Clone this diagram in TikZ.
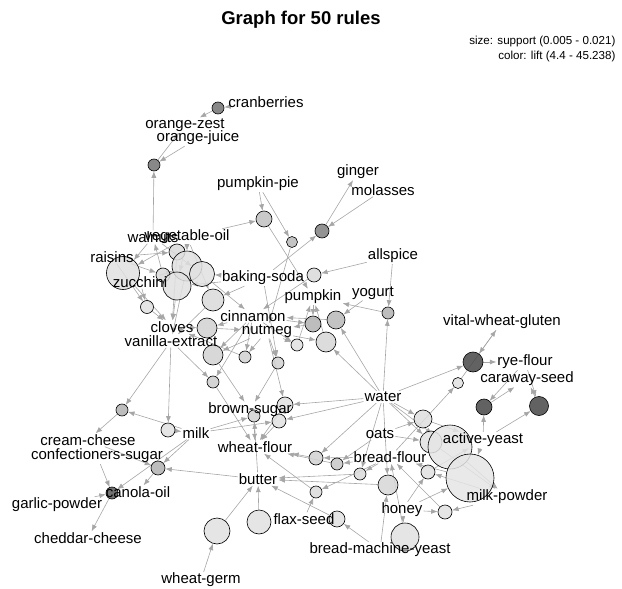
\documentclass[tikz,border=0pt]{standalone}
\usepackage{fontspec}
\setmainfont{Liberation Sans}
\usetikzlibrary{arrows.meta,backgrounds}
\tikzset{%
  item/.style={font=\fontsize{15}{16}\selectfont, inner sep=1pt},% item label
  rule/.style 2 args={draw, circle, line width=0.6pt, inner sep=0pt,
    minimum size=#1pt, fill=black!#2, fill opacity=0.85},% rule vertex: diameter, grey
  link/.style={draw=black!35, line width=0.6pt, -{Latex[length=6.5pt,width=5pt]}}% lhs/rhs edge
}
\begin{document}
\begin{tikzpicture}[x=1pt, y=-1pt]
\useasboundingbox (0,0) rectangle (622,589);

\node[font=\fontsize{18.5}{20}\selectfont\bfseries] (title) at (301,20) {Graph for 50 rules};
\node[anchor=east, font=\fontsize{11.6}{12}\selectfont] (size) at (619,42) {size: support (0.005 - 0.021)};
\node[anchor=east, font=\fontsize{11.6}{12}\selectfont] (color) at (619,56) {color: lift (4.4 - 45.238)};

% rules
\node[rule={12}{55}] (r1) at (218,108) {};
\node[rule={12}{55}] (r2) at (154,165) {};
\node[rule={16}{25}] (r3) at (264,219) {};
\node[rule={11}{28}] (r4) at (292,242) {};
\node[rule={14}{50}] (r5) at (322,231) {};
\node[rule={14}{15}] (r6) at (314,275) {};
\node[rule={12}{30}] (r7) at (388,313) {};
\node[rule={33}{12}] (r8) at (123,273) {};
\node[rule={16}{15}] (r9) at (177,252) {};
\node[rule={30}{12}] (r10) at (187,266) {};
\node[rule={25}{12}] (r11) at (202,274) {};
\node[rule={14}{15}] (r12) at (163,275) {};
\node[rule={28}{12}] (r13) at (177,286) {};
\node[rule={22}{15}] (r14) at (213,300) {};
\node[rule={13}{12}] (r15) at (147,307) {};
\node[rule={20}{18}] (r16) at (207,328) {};
\node[rule={20}{18}] (r17) at (213,355) {};
\node[rule={12}{18}] (r18) at (245,357) {};
\node[rule={12}{18}] (r19) at (278,363) {};
\node[rule={12}{20}] (r20) at (213,382) {};
\node[rule={12}{12}] (r21) at (297,345) {};
\node[rule={16}{30}] (r22) at (313,324) {};
\node[rule={18}{28}] (r23) at (336,320) {};
\node[rule={20}{16}] (r24) at (326,342) {};
\node[rule={16}{12}] (r25) at (285,405) {};
\node[rule={14}{12}] (r26) at (279,421) {};
\node[rule={12}{18}] (r27) at (254,416) {};
\node[rule={14}{18}] (r28) at (316,458) {};
\node[rule={12}{22}] (r29) at (337,464) {};
\node[rule={12}{14}] (r30) at (360,474) {};
\node[rule={12}{14}] (r31) at (316,492) {};
\node[rule={20}{16}] (r32) at (388,485) {};
\node[rule={16}{12}] (r33) at (337,519) {};
\node[rule={24}{12}] (r34) at (259,522) {};
\node[rule={28}{12}] (r35) at (405,537) {};
\node[rule={14}{12}] (r36) at (445,512) {};
\node[rule={11}{12}] (r37) at (458,383) {};
\node[rule={20}{72}] (r38) at (473,362) {};
\node[rule={16}{72}] (r39) at (484,407) {};
\node[rule={19}{72}] (r40) at (539,406) {};
\node[rule={18}{13}] (r41) at (423,419) {};
\node[rule={22}{12}] (r42) at (431,442) {};
\node[rule={44}{10}] (r43) at (450,447) {};
\node[rule={48}{10}] (r44) at (470,478) {};
\node[rule={14}{12}] (r45) at (428,472) {};
\node[rule={12}{30}] (r46) at (122,410) {};
\node[rule={14}{12}] (r47) at (168,430) {};
\node[rule={14}{30}] (r48) at (158,468) {};
\node[rule={12}{65}] (r49) at (112,493) {};
\node[rule={26}{12}] (r50) at (217,531) {};

% items
\node[item] (cranberries) at (266,102) {cranberries};
\node[item] (orangezest) at (185,125) {orange-zest};
\node[item] (orangejuice) at (198,138) {orange-juice};
\node[item] (pumpkinpie) at (258,184) {pumpkin-pie};
\node[item] (ginger) at (358,172) {ginger};
\node[item] (molasses) at (383,190) {molasses};
\node[item] (walnuts) at (153,237) {walnuts};
\node[item] (vegoil) at (187,237) {vegetable-oil};
\node[item] (raisins) at (112,257) {raisins};
\node[item] (zucchini) at (140,282) {zucchini};
\node[item] (bakingsoda) at (263,278) {baking-soda};
\node[item] (allspice) at (393,256) {allspice};
\node[item] (pumpkin) at (313,297) {pumpkin};
\node[item] (yogurt) at (373,293) {yogurt};
\node[item] (cinnamon) at (253,316) {cinnamon};
\node[item] (nutmeg) at (267,331) {nutmeg};
\node[item] (cloves) at (172,327) {cloves};
\node[item] (vanilla) at (171,341) {vanilla-extract};
\node[item] (vwg) at (502,322) {vital-wheat-gluten};
\node[item] (ryeflour) at (525,362) {rye-flour};
\node[item] (caraway) at (527,379) {caraway-seed};
\node[item] (water) at (383,397) {water};
\node[item] (brownsugar) at (250,410) {brown-sugar};
\node[item] (milk) at (196,433) {milk};
\node[item] (oats) at (380,434) {oats};
\node[item] (creamcheese) at (88,440) {cream-cheese};
\node[item] (confsugar) at (97,456) {confectioners-sugar};
\node[item] (wheatflour) at (255,447) {wheat-flour};
\node[item] (activeyeast) at (483,440) {active-yeast};
\node[item] (breadflour) at (390,457) {bread-flour};
\node[item] (butter) at (258,479) {butter};
\node[item] (canolaoil) at (138,492) {canola-oil};
\node[item] (garlic) at (57,505) {garlic-powder};
\node[item] (milkpowder) at (507,497) {milk-powder};
\node[item] (honey) at (402,510) {honey};
\node[item] (flaxseed) at (304,519) {flax-seed};
\node[item] (cheddar) at (88,538) {cheddar-cheese};
\node[item] (bmyeast) at (380,550) {bread-machine-yeast};
\node[item] (wheatgerm) at (201,580) {wheat-germ};

\begin{scope}[on background layer]
\path (cranberries) edge[link] (r1) (r1) edge[link] (orangezest);
\path (walnuts) edge[link] (r2) (orangejuice) edge[link] (r2) (r2) edge[link] (orangezest);
\path (vegoil) edge[link] (r3) (pumpkinpie) edge[link] (r3) (r3) edge[link] (pumpkin);
\path (pumpkinpie) edge[link] (r4) (r4) edge[link] (nutmeg);
\path (molasses) edge[link] (r5) (bakingsoda) edge[link] (r5) (r5) edge[link] (ginger);
\path (allspice) edge[link] (r6) (r6) edge[link] (cinnamon);
\path (allspice) edge[link] (r7) (water) edge[link] (r7) (r7) edge[link] (pumpkin);
\path (walnuts) edge[link] (r8) (vegoil) edge[link] (r8) (r8) edge[link] (cloves);
\path (raisins) edge[link] (r9) (r9) edge[link] (cloves);
\path (zucchini) edge[link] (r10) (vegoil) edge[link] (r10) (r10) edge[link] (vanilla);
\path (walnuts) edge[link] (r11) (bakingsoda) edge[link] (r11) (r11) edge[link] (cinnamon);
\path (raisins) edge[link] (r12) (r12) edge[link] (walnuts);
\path (vegoil) edge[link] (r13) (bakingsoda) edge[link] (r13) (r13) edge[link] (cloves);
\path (bakingsoda) edge[link] (r14) (vegoil) edge[link] (r14) (r14) edge[link] (vanilla);
\path (zucchini) edge[link] (r15) (raisins) edge[link] (r15) (r15) edge[link] (cloves);
\path (cloves) edge[link] (r16) (cinnamon) edge[link] (r16) (r16) edge[link] (nutmeg);
\path (nutmeg) edge[link] (r17) (cinnamon) edge[link] (r17) (r17) edge[link] (brownsugar);
\path (cinnamon) edge[link] (r18) (nutmeg) edge[link] (r18) (r18) edge[link] (cloves);
\path (nutmeg) edge[link] (r19) (bakingsoda) edge[link] (r19) (r19) edge[link] (brownsugar);
\path (vanilla) edge[link] (r20) (cinnamon) edge[link] (r20) (r20) edge[link] (wheatflour);
\path (nutmeg) edge[link] (r21) (cinnamon) edge[link] (r21) (r21) edge[link] (pumpkin);
\path (pumpkin) edge[link] (r22) (cinnamon) edge[link] (r22) (r22) edge[link] (nutmeg);
\path (yogurt) edge[link] (r23) (water) edge[link] (r23) (r23) edge[link] (cinnamon);
\path (water) edge[link] (r24) (nutmeg) edge[link] (r24) (r24) edge[link] (pumpkin);
\path (nutmeg) edge[link] (r25) (water) edge[link] (r25) (r25) edge[link] (wheatflour);
\path (milk) edge[link] (r26) (water) edge[link] (r26) (r26) edge[link] (wheatflour);
\path (butter) edge[link] (r27) (milk) edge[link] (r27) (r27) edge[link] (wheatflour);
\path (water) edge[link] (r28) (breadflour) edge[link] (r28) (r28) edge[link] (wheatflour);
\path (oats) edge[link] (r29) (breadflour) edge[link] (r29) (r29) edge[link] (wheatflour);
\path (breadflour) edge[link] (r30) (water) edge[link] (r30) (r30) edge[link] (butter);
\path (flaxseed) edge[link] (r31) (breadflour) edge[link] (r31) (r31) edge[link] (wheatflour);
\path (water) edge[link] (r32) (bmyeast) edge[link] (r32) (r32) edge[link] (butter);
\path (bmyeast) edge[link] (r33) (r33) edge[link] (butter);
\path (r34) edge[link] (butter);
\path (honey) edge[link] (r35) (r35) edge[link] (breadflour);
\path (honey) edge[link] (r36) (milkpowder) edge[link] (r36) (r36) edge[link] (breadflour);
\path (breadflour) edge[link] (r37) (r37) edge[link] (vwg);
\path (vwg) edge[link] (r38) (water) edge[link] (r38) (r38) edge[link] (ryeflour);
\path (ryeflour) edge[link] (r39) (activeyeast) edge[link] (r39) (r39) edge[link] (caraway);
\path (ryeflour) edge[link] (r40) (activeyeast) edge[link] (r40) (r40) edge[link] (caraway);
\path (water) edge[link] (r41) (oats) edge[link] (r41) (r41) edge[link] (activeyeast);
\path (oats) edge[link] (r42) (water) edge[link] (r42) (r42) edge[link] (milkpowder);
\path (water) edge[link] (r43) (r43) edge[link] (milkpowder);
\path (activeyeast) edge[link] (r44) (honey) edge[link] (r44) (r44) edge[link] (breadflour);
\path (honey) edge[link] (r45) (milkpowder) edge[link] (r45) (r45) edge[link] (activeyeast);
\path (vanilla) edge[link] (r46) (milk) edge[link] (r46) (r46) edge[link] (creamcheese);
\path (vanilla) edge[link] (r47) (r47) edge[link] (milk);
\path (creamcheese) edge[link] (r48) (milk) edge[link] (r48) (butter) edge[link] (r48) (r48) edge[link] (canolaoil);
\path (garlic) edge[link] (r49) (confsugar) edge[link] (r49) (milk) edge[link] (r49) (r49) edge[link] (cheddar);
\path (wheatgerm) edge[link] (r50) (r50) edge[link] (butter);
\end{scope}

\end{tikzpicture}
\end{document}
